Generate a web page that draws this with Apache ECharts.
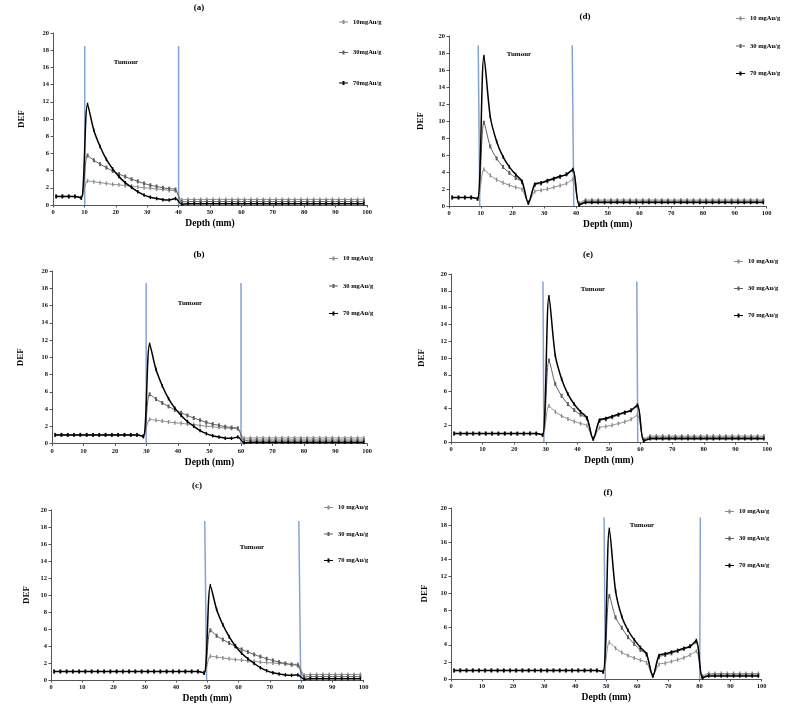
<!DOCTYPE html>
<html>
<head>
<meta charset="utf-8">
<script src="https://cdn.jsdelivr.net/npm/echarts@6/dist/echarts.min.js"></script>
<style>
html,body{margin:0;padding:0;background:#fff;}
#chart{width:800px;height:710px;}
</style>
</head>
<body>
<div id="chart"></div>
<script>
// Depth values (mm) of the plotted points
const depth = [1,3,5,7,9,11,13,15,17,19,21,23,25,27,29,31,33,35,37,39,41,43,45,47,49,51,53,55,57,59,61,63,65,67,69,71,73,75,77,79,81,83,85,87,89,91,93,95,97,99];

// Panel (a): tumour 10-40 mm
const a10 = [1,1,1,1,0.85,2.8,2.7,2.6,2.5,2.4,
  2.35,2.25,2.2,2.1,2.0,1.95,1.85,1.8,1.7,1.65,
  0.6,0.65,0.65,0.65,0.65,0.65,0.65,0.65,0.65,0.65,
  0.65,0.65,0.65,0.65,0.65,0.65,0.65,0.65,0.65,0.65,
  0.65,0.65,0.65,0.65,0.65,0.65,0.65,0.65,0.65,0.65];
const a30 = [1,1,1,1,0.85,5.75,5.2,4.75,4.35,3.95,
  3.6,3.3,3.0,2.75,2.5,2.3,2.15,2.0,1.9,1.8,
  0.35,0.4,0.4,0.4,0.4,0.4,0.4,0.4,0.4,0.4,
  0.4,0.4,0.4,0.4,0.4,0.4,0.4,0.4,0.4,0.4,
  0.4,0.4,0.4,0.4,0.4,0.4,0.4,0.4,0.4,0.4];
const a70 = [1,1,1,1,0.8,11.7,8.7,6.8,5.3,4.2,
  3.3,2.6,2.05,1.55,1.15,0.9,0.75,0.62,0.58,0.75,
  0.1,0.15,0.15,0.15,0.15,0.15,0.15,0.15,0.15,0.15,
  0.15,0.15,0.15,0.15,0.15,0.15,0.15,0.15,0.15,0.15,
  0.15,0.15,0.15,0.15,0.15,0.15,0.15,0.15,0.15,0.15];

// Panel (b): tumour 30-60 mm
const b10 = [1,1,1,1,1,1,1,1,1,1,
  1,1,1,1,0.85,2.8,2.7,2.6,2.5,2.4,
  2.35,2.25,2.2,2.1,2.0,1.95,1.85,1.8,1.75,1.7,
  0.6,0.65,0.65,0.65,0.65,0.65,0.65,0.65,0.65,0.65,
  0.65,0.65,0.65,0.65,0.65,0.65,0.65,0.65,0.65,0.65];
const b30 = [1,1,1,1,1,1,1,1,1,1,
  1,1,1,1,0.85,5.7,5.15,4.7,4.3,3.9,
  3.55,3.25,2.95,2.7,2.45,2.25,2.1,1.95,1.85,1.75,
  0.35,0.4,0.4,0.4,0.4,0.4,0.4,0.4,0.4,0.4,
  0.4,0.4,0.4,0.4,0.4,0.4,0.4,0.4,0.4,0.4];
const b70 = [1,1,1,1,1,1,1,1,1,1,
  1,1,1,1,0.8,11.5,8.6,6.7,5.2,4.1,
  3.25,2.55,2.0,1.5,1.15,0.9,0.75,0.62,0.6,0.75,
  0.1,0.15,0.15,0.15,0.15,0.15,0.15,0.15,0.15,0.15,
  0.15,0.15,0.15,0.15,0.15,0.15,0.15,0.15,0.15,0.15];

// Panel (c): tumour 50-80 mm
const c10 = [1,1,1,1,1,1,1,1,1,1,
  1,1,1,1,1,1,1,1,1,1,
  1,1,1,1,0.85,2.8,2.7,2.6,2.5,2.4,
  2.35,2.25,2.2,2.1,2.05,2.0,1.95,1.9,1.85,1.85,
  0.6,0.65,0.65,0.65,0.65,0.65,0.65,0.65,0.65,0.65];
const c30 = [1,1,1,1,1,1,1,1,1,1,
  1,1,1,1,1,1,1,1,1,1,
  1,1,1,1,0.85,5.85,5.2,4.75,4.35,3.95,
  3.6,3.3,3.0,2.75,2.5,2.3,2.1,1.95,1.8,1.7,
  0.35,0.4,0.4,0.4,0.4,0.4,0.4,0.4,0.4,0.4];
const c70 = [1,1,1,1,1,1,1,1,1,1,
  1,1,1,1,1,1,1,1,1,1,
  1,1,1,1,0.8,11.1,8.3,6.5,5.1,4.0,
  3.15,2.5,1.95,1.45,1.1,0.85,0.7,0.6,0.55,0.6,
  0.1,0.15,0.15,0.15,0.15,0.15,0.15,0.15,0.15,0.15];

// Panel (d): tumour 10-40 mm
const d10 = [1,1,1,1,0.85,4.3,3.6,3.1,2.75,2.45,
  2.2,1.95,0.45,1.7,1.85,2.0,2.2,2.4,2.65,3.15,
  0.35,0.7,0.7,0.7,0.7,0.7,0.7,0.7,0.7,0.7,
  0.7,0.7,0.7,0.7,0.7,0.7,0.7,0.7,0.7,0.7,
  0.7,0.7,0.7,0.7,0.7,0.7,0.7,0.7,0.7,0.7];
const d30 = [1,1,1,1,0.85,9.8,7.0,5.6,4.6,3.9,
  3.3,2.8,0.4,2.45,2.65,2.9,3.15,3.4,3.75,4.2,
  0.2,0.55,0.55,0.55,0.55,0.55,0.55,0.55,0.55,0.55,
  0.55,0.55,0.55,0.55,0.55,0.55,0.55,0.55,0.55,0.55,
  0.55,0.55,0.55,0.55,0.55,0.55,0.55,0.55,0.55,0.55];
const d70 = [1,1,1,1,0.85,17.6,10.5,7.6,5.8,4.6,
  3.7,2.9,0.35,2.55,2.75,3.0,3.25,3.5,3.7,4.3,
  0.12,0.4,0.4,0.4,0.4,0.4,0.4,0.4,0.4,0.4,
  0.4,0.4,0.4,0.4,0.4,0.4,0.4,0.4,0.4,0.4,
  0.4,0.4,0.4,0.4,0.4,0.4,0.4,0.4,0.4,0.4];

// Panel (e): tumour 30-60 mm
const e10 = [1,1,1,1,1,1,1,1,1,1,
  1,1,1,1,0.85,4.3,3.6,3.1,2.75,2.45,
  2.2,1.95,0.45,1.7,1.85,2.0,2.2,2.4,2.7,3.2,
  0.35,0.7,0.7,0.7,0.7,0.7,0.7,0.7,0.7,0.7,
  0.7,0.7,0.7,0.7,0.7,0.7,0.7,0.7,0.7,0.7];
const e30 = [1,1,1,1,1,1,1,1,1,1,
  1,1,1,1,0.85,9.7,6.9,5.5,4.5,3.8,
  3.25,2.8,0.4,2.5,2.7,2.95,3.2,3.45,3.8,4.25,
  0.2,0.55,0.55,0.55,0.55,0.55,0.55,0.55,0.55,0.55,
  0.55,0.55,0.55,0.55,0.55,0.55,0.55,0.55,0.55,0.55];
const e70 = [1,1,1,1,1,1,1,1,1,1,
  1,1,1,1,0.85,17.3,10.3,7.5,5.7,4.5,
  3.6,2.9,0.35,2.6,2.8,3.05,3.3,3.55,3.75,4.4,
  0.12,0.4,0.4,0.4,0.4,0.4,0.4,0.4,0.4,0.4,
  0.4,0.4,0.4,0.4,0.4,0.4,0.4,0.4,0.4,0.4];

// Panel (f): tumour 50-80 mm
const f10 = [1,1,1,1,1,1,1,1,1,1,
  1,1,1,1,1,1,1,1,1,1,
  1,1,1,1,0.85,4.3,3.6,3.1,2.75,2.45,
  2.2,1.9,0.45,1.7,1.85,2.05,2.25,2.5,2.8,3.25,
  0.35,0.65,0.65,0.65,0.65,0.65,0.65,0.65,0.65,0.65];
const f30 = [1,1,1,1,1,1,1,1,1,1,
  1,1,1,1,1,1,1,1,1,1,
  1,1,1,1,0.85,9.7,7.2,6.0,4.9,4.1,
  3.4,2.85,0.4,2.55,2.8,3.0,3.25,3.5,3.85,4.3,
  0.2,0.47,0.47,0.47,0.47,0.47,0.47,0.47,0.47,0.47];
const f70 = [1,1,1,1,1,1,1,1,1,1,
  1,1,1,1,1,1,1,1,1,1,
  1,1,1,1,0.85,17.5,10.3,7.3,5.7,4.6,
  3.7,2.9,0.35,2.75,2.95,3.15,3.35,3.6,3.8,4.5,
  0.12,0.35,0.35,0.35,0.35,0.35,0.35,0.35,0.35,0.35];

// Tumour boundary lines: [x at top, x at bottom]
const boundA = [[10.1,10.1],[40,40]];
const boundB = [[29.9,29.9],[60,60]];
const boundC = [[49.2,49.8],[79.3,79.9]];
const boundD = [[9.2,9.7],[38.8,39.3]];
const boundE = [[29.1,29.4],[58.8,59.1]];
const boundF = [[49.3,49.7],[80.3,80.1]];
const boundTop = [18.5,18.6,18.7,18.9,19.1,18.9];

// Labels
const panelTitles = ['(a)','(b)','(c)','(d)','(e)','(f)'];
const namesA = ['10mgAu/g','30mgAu/g','70mgAu/g'];
const namesOther = ['10 mgAu/g','30 mgAu/g','70 mgAu/g'];
const xTicks = [0,10,20,30,40,50,60,70,80,90,100];
const yTicks = [0,2,4,6,8,10,12,14,16,18,20];
const tumourLabel = 'Tumour';

const FONT = '"Liberation Serif", "Times New Roman", serif';
const LEGEND_ICON = 'path://M0,4L3.5,4L3.5,2.6L5.5,2.6L5.5,4L9,4L9,5L5.5,5L5.5,6.4L3.5,6.4L3.5,5L0,5Z';

const layout = [
  {grid:{left:53,top:33,width:314,height:172}, yGap:27, title:[199,8], lg:{left:339,top:18,gap:22.5}, tum:[126,62], names:namesA, data:[a10,a30,a70], bound:boundA},
  {grid:{left:52,top:271,width:315,height:172.5}, yGap:26.5, title:[199,255], lg:{left:329,top:254.5,gap:19.5}, tum:[190,303], names:namesOther, data:[b10,b30,b70], bound:boundB},
  {grid:{left:51,top:510,width:312.5,height:170}, yGap:20, title:[197,486], lg:{left:324,top:503.5,gap:18.5}, tum:[252,547], names:namesOther, data:[c10,c30,c70], bound:boundC},
  {grid:{left:449,top:36,width:317.5,height:170}, yGap:23.5, title:[585,17], lg:{left:736,top:14.5,gap:19.5}, tum:[519,54], names:namesOther, data:[d10,d30,d70], bound:boundD},
  {grid:{left:451,top:274,width:316,height:168}, yGap:24.5, title:[588,255], lg:{left:734,top:257.5,gap:19}, tum:[593,289], names:namesOther, data:[e10,e30,e70], bound:boundE},
  {grid:{left:451,top:508,width:310.5,height:171}, yGap:21.5, title:[608,493], lg:{left:725,top:507.5,gap:19}, tum:[642,525], names:namesOther, data:[f10,f30,f70], bound:boundF}
];

const lineStyles = [
  {color:'#8c8c8c', width:1, sym:[1.4,4]},
  {color:'#5e5e5e', width:1, sym:[2,4]},
  {color:'#000000', width:1.5, sym:[1.4,3.5]}
];

const grids = [], xAxes = [], yAxes = [], series = [], legends = [], graphics = [];

layout.forEach((p, i) => {
  grids.push(Object.assign({containLabel:false}, p.grid));
  xAxes.push({
    type:'value', gridIndex:i, min:xTicks[0], max:xTicks[xTicks.length-1], interval:xTicks[1]-xTicks[0],
    name:'Depth (mm)', nameLocation:'middle', nameGap:14,
    nameTextStyle:{fontFamily:FONT, fontWeight:'bold', fontSize:9.5, color:'#000'},
    axisLine:{show:true, lineStyle:{color:'#555', width:1}},
    axisTick:{show:true, length:2.5, lineStyle:{color:'#555'}},
    axisLabel:{fontFamily:FONT, fontWeight:'bold', fontSize:6.5, color:'#111', margin:4},
    splitLine:{show:false}
  });
  yAxes.push({
    type:'value', gridIndex:i, min:yTicks[0], max:yTicks[yTicks.length-1], interval:yTicks[1]-yTicks[0],
    name:'DEF', nameLocation:'middle', nameGap:p.yGap, nameRotate:90,
    nameTextStyle:{fontFamily:FONT, fontWeight:'bold', fontSize:9, color:'#000'},
    axisLine:{show:true, lineStyle:{color:'#555', width:1}},
    axisTick:{show:true, length:2.5, lineStyle:{color:'#555'}},
    axisLabel:{fontFamily:FONT, fontWeight:'bold', fontSize:6.5, color:'#111', margin:4},
    splitLine:{show:false}
  });
  p.bound.forEach(b => {
    series.push({
      type:'line', xAxisIndex:i, yAxisIndex:i, silent:true, symbol:'none', z:1,
      lineStyle:{color:'#86a3d2', width:1.5},
      data:[[b[0], boundTop[i]], [b[1], 0]]
    });
  });
  p.data.forEach((vals, k) => {
    const st = lineStyles[k];
    series.push({
      type:'line', name:p.names[k], xAxisIndex:i, yAxisIndex:i, z:2 + k,
      smooth:0.3, symbol:'rect', symbolSize:st.sym, showSymbol:true,
      itemStyle:{color:st.color},
      lineStyle:{color:st.color, width:st.width},
      data: depth.map((d, j) => [d, vals[j]])
    });
  });
  legends.push({
    orient:'vertical', left:p.lg.left, top:p.lg.top, itemGap:p.lg.gap, padding:0,
    itemWidth:9, itemHeight:4, selectedMode:false, icon:LEGEND_ICON,
    data:p.names,
    textStyle:{fontFamily:FONT, fontWeight:'bold', fontSize:6.5, color:'#000', lineHeight:8}
  });
  graphics.push({
    type:'text', x:p.title[0], y:p.title[1], silent:true,
    style:{text:panelTitles[i], fontFamily:FONT, fontWeight:'bold', fontSize:9, fill:'#000', align:'center', verticalAlign:'middle'}
  });
  graphics.push({
    type:'text', x:p.tum[0], y:p.tum[1], silent:true,
    style:{text:tumourLabel, fontFamily:FONT, fontWeight:'bold', fontSize:7, fill:'#000', align:'center', verticalAlign:'middle'}
  });
});

const chart = echarts.init(document.getElementById('chart'), null, {renderer:'canvas'});
chart.setOption({
  animation:false,
  backgroundColor:'#ffffff',
  grid:grids, xAxis:xAxes, yAxis:yAxes, series:series, legend:legends, graphic:graphics
});
</script>
</body>
</html>
